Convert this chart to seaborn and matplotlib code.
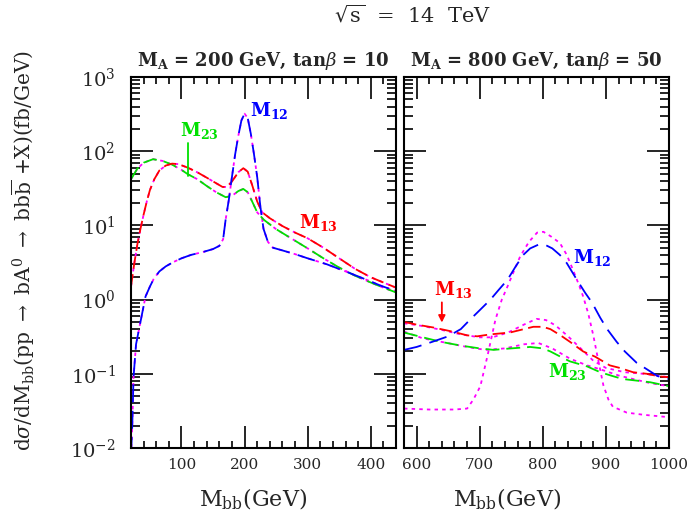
import numpy as np
import pandas as pd
import seaborn as sns
import matplotlib.pyplot as plt
from matplotlib.ticker import LogLocator, MultipleLocator, NullFormatter

sns.set_style("ticks")
plt.rcParams['font.family'] = ['DejaVu Serif']
plt.rcParams['mathtext.fontset'] = 'dejavuserif'
plt.rcParams['lines.scale_dashes'] = False

# ---- left panel: M_A = 200 GeV, tan(beta) = 10 ----
m23_l_x = [20, 30, 40, 55, 70, 85, 100, 110, 125, 140, 155, 170, 180, 190, 198, 205, 212, 220,
           230, 250, 275, 300, 325, 350, 375, 400, 420, 440]
m23_l_y = [42, 58, 70, 78, 74, 66, 56, 49, 42, 34, 28, 24, 25, 29, 31, 28, 21, 15,
           12, 8.9, 6.6, 4.9, 3.6, 2.7, 2.1, 1.7, 1.45, 1.25]

m13_l_x = [20, 25, 30, 35, 40, 45, 50, 57, 65, 75, 85, 95, 110, 125, 140, 155, 165, 172, 180,
           190, 198, 205, 212, 220, 228, 240, 260, 280, 300, 325, 350, 375, 400, 420, 440]
m13_l_y = [1.5, 3.0, 5.5, 9, 14, 21, 30, 42, 55, 64, 68, 67, 60, 52, 44, 37, 33, 33, 39,
           52, 59, 53, 35, 21, 15, 12.5, 9.8, 8.0, 6.7, 5.0, 3.6, 2.6, 2.0, 1.7, 1.45]

m12_l_x = [20, 22, 24, 28, 35, 43, 50, 56, 65, 75, 87, 100, 115, 135, 150, 160, 166, 170, 175,
           180, 185, 190, 195, 200, 205, 210, 215, 220, 225, 230, 237, 245, 260, 280, 300, 330,
           360, 390, 415, 440]
m12_l_y = [0.008, 0.02, 0.09, 0.25, 0.5, 1.1, 1.5, 1.9, 2.4, 2.8, 3.2, 3.6, 4.0, 4.4, 4.8, 5.3,
           6.5, 12, 22, 45, 90, 160, 260, 320, 280, 170, 90, 45, 18, 9, 6.0, 5.0, 4.6, 4.1, 3.6,
           3.0, 2.4, 1.9, 1.55, 1.3]

# ---- right panel: M_A = 800 GeV, tan(beta) = 50 ----
m12_r_x = [580, 600, 625, 650, 670, 685, 700, 717, 730, 744, 757, 769, 780, 793, 805, 815, 827,
           838, 854, 867, 878, 891, 902, 917, 930, 949, 965, 982, 1000]
m12_r_y = [0.21, 0.23, 0.27, 0.32, 0.4, 0.54, 0.72, 1.0, 1.35, 1.85, 2.8, 4.0, 4.9, 5.5, 5.4,
           4.9, 4.0, 3.1, 1.85, 1.24, 0.91, 0.57, 0.40, 0.27, 0.2, 0.14, 0.115, 0.093, 0.085]

m13_r_x = [580, 600, 627, 657, 680, 696, 717, 748, 770, 785, 800, 812, 828, 843, 864, 883, 906,
           922, 943, 965, 985, 1000]
m13_r_y = [0.50, 0.46, 0.42, 0.37, 0.33, 0.32, 0.34, 0.36, 0.40, 0.43, 0.43, 0.40, 0.33, 0.27,
           0.20, 0.17, 0.13, 0.12, 0.105, 0.10, 0.092, 0.09]

m23_r_x = [580, 610, 638, 670, 700, 722, 750, 780, 800, 812, 828, 843, 870, 891, 911, 927, 954,
           970, 1000]
m23_r_y = [0.36, 0.31, 0.27, 0.24, 0.22, 0.21, 0.22, 0.23, 0.22, 0.20, 0.17, 0.147, 0.126,
           0.105, 0.093, 0.085, 0.08, 0.077, 0.068]

# magenta (dotted) curves, right panel
m12_rd_x = [580, 620, 660, 680, 690, 701, 712, 725, 735, 744, 754, 764, 778, 791, 801, 814, 827,
            838, 848, 857, 864, 872, 880, 888, 896, 904, 911, 933, 960, 980, 1000]
m12_rd_y = [0.034, 0.033, 0.033, 0.034, 0.045, 0.068, 0.17, 0.54, 1.0, 1.5, 2.4, 3.8, 6.0, 8.0,
            8.2, 7.0, 5.8, 4.0, 2.5, 1.6, 1.1, 0.65, 0.33, 0.15, 0.07, 0.045, 0.036, 0.030,
            0.028, 0.027, 0.026]

m13_rd_x = [580, 610, 640, 670, 700, 720, 745, 770, 790, 805, 820, 840, 860, 880, 900, 930, 960,
            1000]
m13_rd_y = [0.48, 0.44, 0.39, 0.34, 0.31, 0.31, 0.36, 0.46, 0.55, 0.53, 0.45, 0.32, 0.22, 0.15,
            0.12, 0.105, 0.1, 0.09]

m23_rd_x = [580, 610, 649, 680, 709, 740, 770, 793, 815, 843, 870, 891, 920, 943, 970, 1000]
m23_rd_y = [0.37, 0.30, 0.26, 0.23, 0.21, 0.22, 0.25, 0.26, 0.22, 0.16, 0.13, 0.115, 0.095,
            0.085, 0.075, 0.068]

BLUE, RED, GREEN, MAG = "#0000ff", "#ff0000", "#00e000", "#ff00ff"
LS_BLUE = (0, (13, 6))
LS_RED = (0, (9, 4))
LS_GREEN = (0, (10, 5))
LS_MAG = (0, (2.5, 3))
LW = 1.3


def curve(ax, xs, ys, color, ls):
    df = pd.DataFrame({"x": xs, "y": ys})
    sns.lineplot(data=df, x="x", y="y", ax=ax, color=color, linestyle=ls, lw=LW)


def style_axis(ax, xmin, xmax, major, labels_y=True):
    ax.set_yscale("log")
    ax.set_ylim(1e-2, 1e3)
    ax.set_xlim(xmin, xmax)
    ax.xaxis.set_major_locator(MultipleLocator(major))
    ax.xaxis.set_minor_locator(MultipleLocator(20))
    ax.yaxis.set_major_locator(LogLocator(base=10, numticks=10))
    ax.yaxis.set_minor_locator(LogLocator(base=10, subs=np.arange(2, 10), numticks=20))
    ax.yaxis.set_minor_formatter(NullFormatter())
    ax.tick_params(which="both", direction="in", top=True, right=True, width=1.2, color="black")
    ax.tick_params(axis="x", which="major", length=16, labelsize=11, pad=7)
    ax.tick_params(axis="x", which="minor", length=5)
    ax.tick_params(axis="y", which="major", length=16, labelsize=14, pad=11)
    ax.tick_params(axis="y", which="minor", length=6.5)
    if not labels_y:
        ax.tick_params(axis="y", labelleft=False)
    for s in ax.spines.values():
        s.set_linewidth(1.5)
        s.set_color("black")
    ax.set_ylabel("")


fig = plt.figure(figsize=(6.94, 5.23), dpi=100)
axl = fig.add_axes([131 / 694, 1 - 448 / 523, 265 / 694, 371 / 523])
axr = fig.add_axes([404 / 694, 1 - 448 / 523, 265 / 694, 371 / 523])

# left: magenta dotted follows each curve, coloured dashes on top
for xs, ys in [(m23_l_x, m23_l_y), (m13_l_x, m13_l_y), (m12_l_x, m12_l_y)]:
    curve(axl, xs, ys, MAG, LS_MAG)
curve(axl, m23_l_x, m23_l_y, GREEN, LS_GREEN)
curve(axl, m13_l_x, m13_l_y, RED, LS_RED)
curve(axl, m12_l_x, m12_l_y, BLUE, LS_BLUE)

# right
curve(axr, m12_rd_x, m12_rd_y, MAG, LS_MAG)
curve(axr, m13_rd_x, m13_rd_y, MAG, LS_MAG)
curve(axr, m23_rd_x, m23_rd_y, MAG, LS_MAG)
curve(axr, m23_r_x, m23_r_y, GREEN, LS_GREEN)
curve(axr, m13_r_x, m13_r_y, RED, LS_RED)
curve(axr, m12_r_x, m12_r_y, BLUE, LS_BLUE)

style_axis(axl, 20, 440, 100)
style_axis(axr, 580, 1000, 100, labels_y=False)

axl.set_title(r"M$_{\mathbf{A}}$ = 200 GeV, tan$\beta$ = 10", fontsize=13, fontweight="bold", pad=8)
axr.set_title(r"M$_{\mathbf{A}}$ = 800 GeV, tan$\beta$ = 50", fontsize=13, fontweight="bold", pad=8)

for ax, fx in [(axl, 0.46), (axr, 0.39)]:
    ax.set_xlabel(r"M$_{\rm bb}$(GeV)", fontsize=16)
    ax.xaxis.set_label_coords(fx, -0.105)

fig.text(23 / 694, 1 - 251 / 523,
         r"d$\sigma$/dM$_{\rm bb}$(pp $\rightarrow$ bA$^{0}$ $\rightarrow$ bb$\overline{\rm b}$ +X)(fb/GeV)",
         rotation=90, ha="center", va="center", fontsize=14.5)
fig.text(412 / 694, 1 - 15 / 523, r"$\sqrt{\rm s}$  =  14  TeV", ha="center", va="center", fontsize=15)

# curve labels
bold = dict(fontsize=13, fontweight="bold", va="center")
axl.text(209, 355, r"$\mathbf{M}_{\mathbf{12}}$", color=BLUE, **bold)
axl.text(98, 190, r"$\mathbf{M}_{\mathbf{23}}$", color=GREEN, **bold)
axl.plot([111, 111], [128, 46], color=GREEN, lw=1.3)
axl.text(287, 11, r"$\mathbf{M}_{\mathbf{13}}$", color=RED, **bold)

axr.text(848, 3.7, r"$\mathbf{M}_{\mathbf{12}}$", color=BLUE, **bold)
axr.text(627, 1.36, r"$\mathbf{M}_{\mathbf{13}}$", color=RED, **bold)
axr.annotate("", xy=(640, 0.45), xytext=(640, 1.0),
             arrowprops=dict(arrowstyle="-|>", color=RED, lw=1.3, mutation_scale=10))
axr.text(808, 0.108, r"$\mathbf{M}_{\mathbf{23}}$", color=GREEN, **bold)

fig.savefig("out.png", dpi=100)
